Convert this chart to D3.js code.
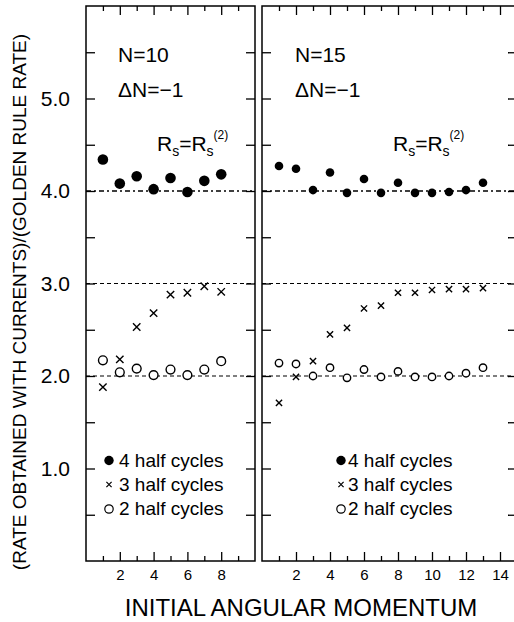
<!DOCTYPE html>
<html>
<head>
<meta charset="utf-8">
<script src="https://cdn.jsdelivr.net/npm/d3@7"></script>
<style>
  html, body { margin: 0; padding: 0; background: #fff; }
  svg { display: block; font-family: "Liberation Sans", Arial, Helvetica, sans-serif; }
</style>
</head>
<body>
<svg id="chart" width="514" height="622"></svg>
<script>
// Initial angular momentum values for each run
const momentaN10 = [1, 2, 3, 4, 5, 6, 7, 8];
const momentaN15 = [1, 2, 3, 4, 5, 6, 7, 8, 9, 10, 11, 12, 13];

// Rate ratios, N = 10
const n10FourHalf  = [4.34, 4.08, 4.16, 4.02, 4.14, 3.99, 4.11, 4.18];
const n10ThreeHalf = [1.88, 2.18, 2.53, 2.68, 2.88, 2.90, 2.97, 2.91];
const n10TwoHalf   = [2.17, 2.04, 2.08, 2.01, 2.07, 2.01, 2.07, 2.16];

// Rate ratios, N = 15
const n15FourHalf  = [4.27, 4.24, 4.01, 4.20, 3.98, 4.13, 3.98, 4.09, 3.98, 3.98, 3.99, 4.01, 4.09];
const n15ThreeHalf = [1.71, 1.99, 2.16, 2.45, 2.52, 2.73, 2.76, 2.90, 2.90, 2.93, 2.94, 2.94, 2.95];
const n15TwoHalf   = [2.14, 2.13, 2.00, 2.09, 1.98, 2.07, 1.99, 2.05, 1.99, 1.99, 2.00, 2.03, 2.09];

// Reference levels and tick values
const refLevels = [2, 3, 4];
const yMajorTicks = [1, 2, 3, 4, 5];
const yMinorTicks = [0.5, 1.5, 2.5, 3.5, 4.5, 5.5];
const legendLabels = ["4 half cycles", "3 half cycles", "2 half cycles"];
const legendKinds = ["filled", "cross", "open"];

const svg = d3.select("#chart");
const plotTop = 6, plotBottom = 561;
const y = d3.scaleLinear().domain([0, 6]).range([plotBottom, plotTop]);

const panels = [
  {
    x0: 86, x1: 255, max: 10, momenta: momentaN10,
    four: n10FourHalf, three: n10ThreeHalf, two: n10TwoHalf,
    nLabel: "N=10", textX: 118, rsX: 157,
    rFill: 5.3, rOpen: 4.4, cross: 3.7, showY: true,
    legendX: 109, legendTextX: 119
  },
  {
    x0: 262, x1: 517, max: 15, momenta: momentaN15,
    four: n15FourHalf, three: n15ThreeHalf, two: n15TwoHalf,
    nLabel: "N=15", textX: 295, rsX: 393,
    rFill: 4.3, rOpen: 3.7, cross: 3.1, showY: false,
    legendX: 341, legendTextX: 348
  }
];

panels.forEach(p => {
  const x = d3.scaleLinear().domain([0, p.max]).range([p.x0, p.x1]);
  const g = svg.append("g");
  const evens = d3.range(2, p.max, 2);
  const odds = d3.range(1, p.max, 2);

  // dashed reference lines
  g.selectAll("line.ref").data(refLevels).join("line")
    .attr("x1", p.x0).attr("x2", p.x1)
    .attr("y1", d => y(d)).attr("y2", d => y(d))
    .attr("stroke", "#000")
    .attr("stroke-width", d => d === 4 ? 1.5 : 1.1)
    .attr("stroke-dasharray", d => d === 4 ? "5,3,2,3" : "4,3");

  const axisStyle = sel => {
    sel.select(".domain").remove();
    sel.selectAll(".tick line").attr("stroke", "#000").attr("stroke-width", 1.3);
  };

  // bottom axis: labelled even ticks, short odd ticks
  g.append("g").attr("transform", `translate(0,${plotBottom})`)
    .call(d3.axisBottom(x).tickValues(evens).tickSize(-9).tickPadding(8.5).tickFormat(d3.format("d")))
    .call(axisStyle)
    .selectAll("text").attr("font-size", 15).attr("fill", "#000")
    .style("font-family", "'Liberation Sans', Arial, sans-serif");
  g.append("g").attr("transform", `translate(0,${plotBottom})`)
    .call(d3.axisBottom(x).tickValues(odds).tickSize(-5).tickFormat(""))
    .call(axisStyle);

  // top axis
  g.append("g").attr("transform", `translate(0,${plotTop})`)
    .call(d3.axisTop(x).tickValues(evens).tickSize(-9).tickFormat(""))
    .call(axisStyle);
  g.append("g").attr("transform", `translate(0,${plotTop})`)
    .call(d3.axisTop(x).tickValues(odds).tickSize(-5).tickFormat(""))
    .call(axisStyle);

  // left axis
  const left = g.append("g").attr("transform", `translate(${p.x0},0)`)
    .call(d3.axisLeft(y).tickValues(yMajorTicks).tickSize(-9).tickPadding(16)
      .tickFormat(p.showY ? d3.format(".1f") : ""))
    .call(axisStyle);
  left.selectAll("text").attr("font-size", 21).attr("fill", "#000")
    .style("font-family", "'Liberation Sans', Arial, sans-serif");
  g.append("g").attr("transform", `translate(${p.x0},0)`)
    .call(d3.axisLeft(y).tickValues(yMinorTicks).tickSize(-9).tickFormat(""))
    .call(axisStyle);

  // right axis
  g.append("g").attr("transform", `translate(${p.x1},0)`)
    .call(d3.axisRight(y).tickValues(yMajorTicks.concat(yMinorTicks)).tickSize(-9).tickFormat(""))
    .call(axisStyle);

  // frame
  g.append("rect")
    .attr("x", p.x0).attr("y", plotTop)
    .attr("width", p.x1 - p.x0).attr("height", plotBottom - plotTop)
    .attr("fill", "none").attr("stroke", "#000").attr("stroke-width", 1.5);

  // 4 half cycles: filled circles
  g.selectAll("circle.four").data(p.momenta).join("circle")
    .attr("cx", d => x(d)).attr("cy", (d, i) => y(p.four[i]))
    .attr("r", p.rFill).attr("fill", "#000");

  // 2 half cycles: open circles
  g.selectAll("circle.two").data(p.momenta).join("circle")
    .attr("cx", d => x(d)).attr("cy", (d, i) => y(p.two[i]))
    .attr("r", p.rOpen).attr("fill", "#fff").attr("stroke", "#000").attr("stroke-width", 1.4);

  // 3 half cycles: crosses
  const c = p.cross;
  g.selectAll("path.three").data(p.momenta).join("path")
    .attr("d", (d, i) => {
      const cx = x(d), cy = y(p.three[i]);
      return `M${cx - c},${cy - c}L${cx + c},${cy + c}M${cx - c},${cy + c}L${cx + c},${cy - c}`;
    })
    .attr("stroke", "#000").attr("stroke-width", 1.4).attr("fill", "none");

  // panel annotations
  g.append("text").attr("x", p.textX).attr("y", 62)
    .attr("font-size", 21).text(p.nLabel);
  g.append("text").attr("x", p.textX).attr("y", 97)
    .attr("font-size", 21).text("\u0394N=\u22121");

  const rs = g.append("text").attr("x", p.rsX).attr("y", 151).attr("font-size", 21);
  rs.append("tspan").text("R");
  rs.append("tspan").attr("font-size", 14).attr("dy", 5).text("s");
  rs.append("tspan").attr("dy", -5).text("=R");
  rs.append("tspan").attr("font-size", 14).attr("dy", 5).text("s");
  rs.append("tspan").attr("font-size", 12).attr("dy", -17).text("(2)");

  // legend
  const legendY = [460.5, 484.5, 509];
  legendKinds.forEach((kind, i) => {
    const ly = legendY[i], lx = p.legendX;
    if (kind === "filled") {
      g.append("circle").attr("cx", lx).attr("cy", ly).attr("r", 4.7).attr("fill", "#000");
    } else if (kind === "open") {
      g.append("circle").attr("cx", lx).attr("cy", ly).attr("r", 4.2)
        .attr("fill", "none").attr("stroke", "#000").attr("stroke-width", 1.2);
    } else {
      const s = 2.6;
      g.append("path")
        .attr("d", `M${lx - s},${ly - s}L${lx + s},${ly + s}M${lx - s},${ly + s}L${lx + s},${ly - s}`)
        .attr("stroke", "#000").attr("stroke-width", 1.2);
    }
    g.append("text").attr("x", p.legendTextX).attr("y", ly + 6)
      .attr("font-size", 19).text(legendLabels[i]);
  });
});

// axis titles
svg.append("text")
  .attr("transform", "translate(26,302) rotate(-90)")
  .attr("text-anchor", "middle").attr("font-size", 19)
  .text("(RATE OBTAINED WITH CURRENTS)/(GOLDEN RULE RATE)");

svg.append("text")
  .attr("x", 301).attr("y", 616)
  .attr("text-anchor", "middle").attr("font-size", 24)
  .text("INITIAL ANGULAR MOMENTUM");
</script>
</body>
</html>
